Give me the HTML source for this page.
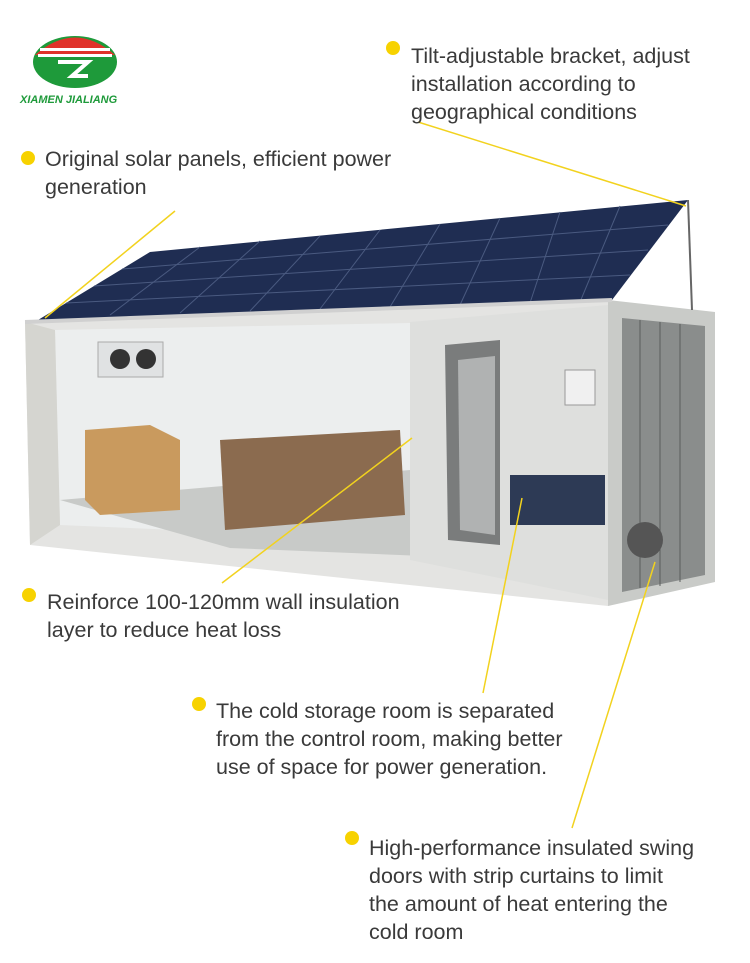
<!DOCTYPE html>
<html><head><meta charset="utf-8"><style>
body{margin:0;background:#fff;width:750px;height:963px;overflow:hidden;position:relative;font-family:"Liberation Sans",sans-serif}
.t{position:absolute;font-size:21.5px;line-height:28px;color:#3a3a3a;white-space:nowrap}
.d{position:absolute;width:14px;height:14px;border-radius:50%;background:#f7d200}
</style></head><body>
<svg width="750" height="963" style="position:absolute;left:0;top:0">
<ellipse cx="75" cy="62" rx="42" ry="26" fill="#1e9a3a"/>
<path d="M35,55 Q75,20 115,55 Z" fill="#e0322a"/>
<rect x="40" y="48" width="70" height="3" fill="#fff"/>
<rect x="38" y="54" width="74" height="3" fill="#fff"/>
<path d="M58,62 h30 l-16,14 h16" stroke="#fff" stroke-width="4" fill="none"/>
<text x="20" y="103" font-size="11" font-style="italic" font-weight="bold" fill="#1e9a3a" font-family="Liberation Sans">XIAMEN JIALIANG</text>
<polygon points="608,300 715,312 715,582 608,606" fill="#c9cbc8"/>
<polygon points="622,318 705,326 705,575 622,592" fill="#8a8d8c"/>
<g stroke="#5a5d5c" stroke-width="1">
<line x1="640" y1="320" x2="640" y2="588"/><line x1="660" y1="322" x2="660" y2="586"/><line x1="680" y1="324" x2="680" y2="582"/>
</g>
<circle cx="645" cy="540" r="18" fill="#555"/>
<polygon points="25,322 608,300 608,606 30,545" fill="#e4e4e2"/>
<polygon points="55,330 410,323 410,540 60,525" fill="#eceeee"/>
<polygon points="60,500 410,470 520,560 230,548" fill="#c8cac8"/>
<polygon points="410,322 608,305 608,600 410,560" fill="#dedfdd"/>
<polygon points="25,322 55,330 60,525 30,545" fill="#d5d5d0"/>
<rect x="98" y="342" width="65" height="35" fill="#e0e2e3" stroke="#aaa"/>
<circle cx="120" cy="359" r="10" fill="#333"/><circle cx="146" cy="359" r="10" fill="#333"/>
<polygon points="85,430 150,425 180,440 180,510 100,515 85,500" fill="#c99a5e"/>
<polygon points="220,440 400,430 405,515 225,530" fill="#8b6b4f"/>
<polygon points="445,345 500,340 500,545 448,540" fill="#7a7c7c"/>
<polygon points="458,360 495,356 495,535 460,530" fill="#b0b2b2"/>
<rect x="510" y="475" width="95" height="50" fill="#2d3a55"/>
<rect x="565" y="370" width="30" height="35" fill="#f0f0f0" stroke="#999"/>
<polygon points="38,320 150,252 688,200 612,300" fill="#1f2d52"/>
<g stroke="#4a5a80" stroke-width="1">
<line x1="66" y1="303" x2="630" y2="275"/><line x1="94" y1="286" x2="648" y2="250"/><line x1="122" y1="269" x2="668" y2="225"/>
<line x1="200" y1="247" x2="110" y2="315"/><line x1="260" y1="241" x2="180" y2="313"/><line x1="320" y1="236" x2="250" y2="311"/><line x1="380" y1="230" x2="320" y2="309"/><line x1="440" y1="224" x2="390" y2="307"/><line x1="500" y1="218" x2="460" y2="305"/><line x1="560" y1="212" x2="530" y2="303"/><line x1="620" y1="206" x2="580" y2="302"/>
</g>
<line x1="25" y1="322" x2="612" y2="300" stroke="#d0d0d0" stroke-width="4"/>
<line x1="688" y1="200" x2="692" y2="310" stroke="#666" stroke-width="2"/>
<g stroke="#f2d21e" stroke-width="1.5">
<line x1="175" y1="211" x2="45" y2="318"/>
<line x1="418" y1="122" x2="686" y2="206"/>
<line x1="412" y1="438" x2="222" y2="583"/>
<line x1="522" y1="498" x2="483" y2="693"/>
<line x1="655" y1="562" x2="572" y2="828"/>
</g>
</svg>
<div class="d" style="left:386px;top:41px"></div>
<div class="t" style="left:411px;top:42px">Tilt-adjustable bracket, adjust<br>installation according to<br>geographical conditions</div>
<div class="d" style="left:21px;top:151px"></div>
<div class="t" style="left:45px;top:145px">Original solar panels, efficient power<br>generation</div>
<div class="d" style="left:22px;top:588px"></div>
<div class="t" style="left:47px;top:588px">Reinforce 100-120mm wall insulation<br>layer to reduce heat loss</div>
<div class="d" style="left:192px;top:697px"></div>
<div class="t" style="left:216px;top:697px">The cold storage room is separated<br>from the control room, making better<br>use of space for power generation.</div>
<div class="d" style="left:345px;top:831px"></div>
<div class="t" style="left:369px;top:834px">High-performance insulated swing<br>doors with strip curtains to limit<br>the amount of heat entering the<br>cold room</div>
</body></html>
